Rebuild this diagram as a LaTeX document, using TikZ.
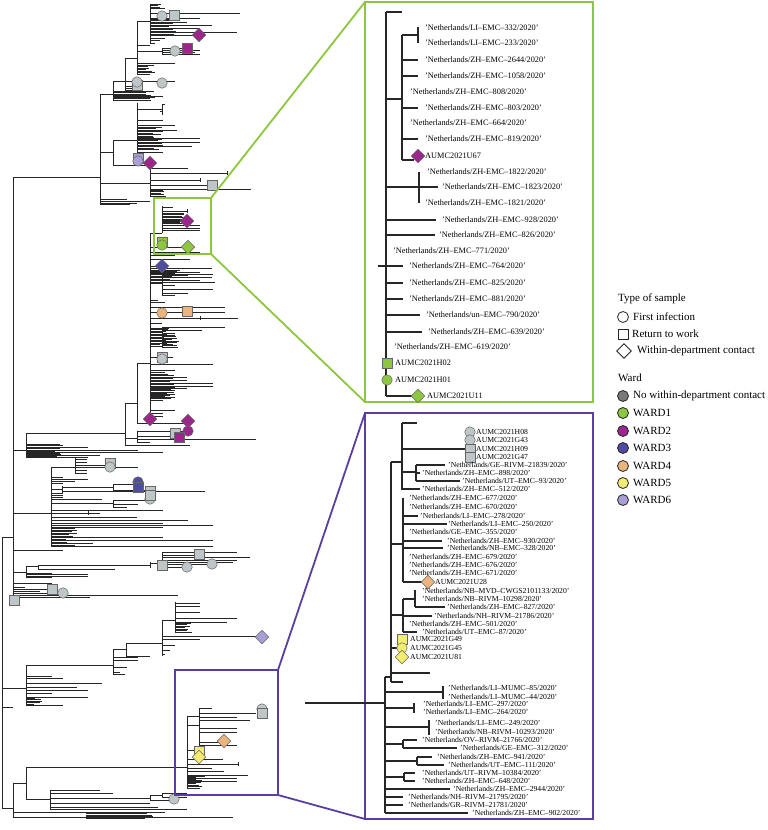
\documentclass[tikz,border=0pt]{standalone}
\usepackage{fontspec}
\setmainfont{Liberation Serif}
\usetikzlibrary{shapes.geometric}
\definecolor{cgrey}{HTML}{BEC6C8}
\definecolor{cwone}{HTML}{8DC63F}
\definecolor{cwtwo}{HTML}{9B268C}
\definecolor{cwthree}{HTML}{4F4DA0}
\definecolor{cwfour}{HTML}{EBB47D}
\definecolor{cwfive}{HTML}{F3EC6E}
\definecolor{cwsix}{HTML}{AA9ED4}
\definecolor{cdark}{HTML}{7A7A7A}
\definecolor{gboxc}{HTML}{8DC63F}
\definecolor{pboxc}{HTML}{5B3FA0}
\tikzset{
 treeline/.style={line width=1pt, draw=black!85},
 insline/.style={line width=1.3pt, draw=black!85},
 mkbase/.style={draw=black!60, line width=0.5pt, inner sep=0pt, outer sep=0pt},
 mc/.style={mkbase, circle, minimum size=10.5pt},
 ms/.style={mkbase, rectangle, minimum size=10pt},
 md/.style={mkbase, diamond, minimum size=13.5pt},
 glab/.style={anchor=west, inner sep=0pt, font=\fontsize{8.3}{9}\selectfont},
 plab/.style={anchor=west, inner sep=0pt, font=\fontsize{7.7}{8}\selectfont},
 leg/.style={anchor=west, inner sep=0pt, font=\fontsize{11}{13}\selectfont},
 legsym/.style={draw=black!85, line width=0.8pt, inner sep=0pt, outer sep=0pt},
 gbx/.style={draw=gboxc, line width=1.8pt, inner sep=0pt, outer sep=0pt},
 pbx/.style={draw=pboxc, line width=1.8pt, inner sep=0pt, outer sep=0pt},
}
\newcounter{mkc}
\newcounter{lbc}
\newcommand\TVl[3]{\draw[treeline] (#1,#2) -- (#1,#3);}
\newcommand\THl[3]{\draw[treeline] (#2,#1) -- (#3,#1);}
\newcommand\TLv[2]{\foreach \yy/\ll in {#2}{\draw[treeline] (#1,\yy) -- (\ll,\yy);}}
\newcommand\TBlk[4]{\pgfmathtruncatemacro\nn{(#3-#2)/1.5}%
 \foreach \k in {0,...,\nn}{\draw[treeline] (#1,{#2+1.5*\k}) -- ({#4+5*rand},{#2+1.5*\k});}}
\newcommand\IVl[3]{\draw[insline] (#1,#2) -- (#1,#3);}
\newcommand\IHl[3]{\draw[insline] (#2,#1) -- (#3,#1);}
\newcommand\TMk[4]{\stepcounter{mkc}\node[#1, fill=#2] (mk\arabic{mkc}) at (#3,#4) {};}
\newcommand\TGl[3]{\stepcounter{lbc}\node[glab] (lb\arabic{lbc}) at (#1,#2) {#3};}
\newcommand\TPl[3]{\stepcounter{lbc}\node[plab] (lb\arabic{lbc}) at (#1,#2) {#3};}
\begin{document}
\begin{tikzpicture}[x=1pt,y=-1pt]
\useasboundingbox (0,0) rectangle (768,830);
\pgfmathsetseed{7}
% ================= main tree =================
\TVl{13}{177}{600}
\THl{177}{13}{100}
\TVl{2}{537}{808}
\THl{537}{2}{13}
% clade A
\TVl{100}{94}{204}
\THl{94}{100}{113}
\TVl{113}{81}{100}
\THl{81}{113}{125}
\TVl{125}{58}{90}
\THl{58}{125}{137}
\TVl{137}{21}{75}
\THl{21}{137}{150}
\TVl{150}{4}{43}
\TBlk{150}{4}{9}{160}
\TLv{150}{13/240, 18/200, 22/187, 25/212, 28/200, 32/237, 35/199, 38/165, 40/160, 43/155}
\TBlk{150}{19}{34}{172}
\THl{51}{137}{162}
\TVl{162}{48}{54}
\TLv{162}{48/187, 50/200, 52/195, 54/200}
\TLv{137}{45/150, 63/175}
\TBlk{137}{65}{75}{150}
\TLv{125}{81/175, 86/137, 88/140, 90/137}
\TBlk{113}{91}{100}{150}
\TLv{113}{96/163}
\THl{152}{100}{113}
\TVl{113}{140}{165}
\THl{140}{113}{137}
\TVl{137}{103}{160}
\THl{109}{137}{162}
\TVl{162}{104}{114}
\TLv{162}{104/165, 107/163, 111/160, 114/163}
\TLv{137}{120/163, 125/175, 130/177, 138/200, 142/200, 146/192, 152/163}
\TBlk{137}{127}{150}{158}
\TLv{113}{165/150}
\THl{183}{100}{150}
\TVl{150}{167}{197}
\TLv{150}{168/188, 173/227, 180/200, 185/212, 189/251}
\TVl{227}{171}{175}
\TVl{200}{178}{182}
\TBlk{150}{190}{197}{165}
\TLv{100}{199/127, 201/150, 203/137, 204/130}
% clade B (green region and below)
\TVl{162}{206}{233}
\THl{233}{150}{162}
\TLv{162}{207/173, 211/187, 221/187, 225/200, 228/200, 230/200}
\TVl{187}{209}{213}
\TBlk{162}{213}{224}{185}
\TVl{150}{233}{416}
\THl{247}{150}{188}
\TLv{150}{252/200, 255/175, 259/190, 266/162, 268/212, 272/200, 274/213, 277/212, 280/200}
\TBlk{150}{270}{282}{175}
\TVl{162}{272}{295}
\THl{283}{150}{162}
\TLv{162}{273/175, 275/188, 277/212, 282/215, 285/175, 289/213, 293/188, 295/175}
\TLv{150}{300/158, 302/165, 307/225, 312/225, 318/238, 323/162}
\TVl{200}{316}{320}
\TVl{162}{327}{347}
\THl{337}{150}{162}
\TLv{162}{327/225, 330/202, 333/175}
\TBlk{162}{335}{347}{175}
\TBlk{150}{328}{346}{165}
\TLv{150}{357/173, 364/213, 370/175, 372/165, 377/187, 380/187, 383/213, 386/213, 388/187, 390/175, 394/175, 397/175, 400/163, 410/175, 413/163, 416/163}
\TBlk{150}{374}{398}{170}
\TVl{137}{363}{423}
\THl{363}{137}{150}
\THl{423}{137}{188}
\TVl{125}{403}{445}
\THl{403}{125}{137}
\THl{433}{26}{125}
\THl{438}{125}{137}
\TVl{137}{431}{442}
\TLv{137}{431/188, 436/179, 439/256, 442/150}
\TLv{125}{445/190}
% clade D
\TVl{26}{433}{457}
\THl{450}{13}{26}
\TLv{26}{447/88, 450/138, 452/163, 455/100, 457/88}
\TBlk{26}{444}{457}{60}
% clade E
\THl{513}{13}{51}
\TVl{51}{467}{547}
\THl{467}{51}{75}
\TVl{75}{458}{474}
\TLv{75}{459/87, 462/87, 465/105, 467/138, 470/87, 473/87}
\TLv{51}{477/63, 479/88, 481/75, 483/63}
\TVl{62}{486}{493}
\THl{489}{51}{62}
\THl{487}{62}{113}
\TVl{113}{484}{490}
\TLv{113}{484/138, 490/150}
\TLv{62}{491/205}
\THl{503}{51}{113}
\TVl{113}{500}{507}
\TLv{113}{500/150, 504/138, 507/127}
\TLv{51}{493/63, 495/63, 497/63, 499/102, 510/163, 513/100, 517/137, 520/188, 523/163, 525/213, 527/163, 530/77, 533/77, 537/163, 540/213, 543/93, 546/213}
\TVl{88}{511}{515}
\TBlk{51}{527}{546}{70}
% clade F (below 537)
\TLv{13}{550/63}
\THl{572}{13}{26}
\TVl{26}{566}{577}
\THl{566}{26}{38}
\TVl{38}{565}{570}
\THl{565}{38}{150}
\THl{569}{38}{115}
\TLv{26}{573/52, 574/88, 576/88, 577/52}
\TVl{150}{562}{568}
\THl{563}{150}{162}
\TVl{162}{552}{567}
\TLv{162}{552/237, 555/199, 557/250, 560/237, 562/233, 564/212, 567/187}
\TLv{13}{583/52, 587/25, 589/52, 591/40, 593/63, 595/178, 597/90}
\THl{688}{2}{26}
\TVl{26}{665}{705}
\THl{665}{26}{113}
\TVl{113}{649}{674}
\THl{649}{113}{126}
\TVl{126}{643}{656}
\THl{643}{126}{162}
\TVl{162}{620}{656}
\THl{620}{162}{175}
\TVl{175}{602}{632}
\TLv{175}{603/200, 606/200, 612/200, 618/237, 622/227, 626/190}
\TBlk{175}{623}{632}{188}
\TLv{162}{636/257, 639/200, 645/175, 650/170, 654/165}
\TLv{126}{656/150}
\TLv{113}{657/138, 660/138, 667/127, 672/120, 674/125}
\TLv{26}{676/52, 678/63, 683/102, 687/77, 690/88, 693/52, 697/88, 705/63}
\TBlk{26}{698}{704}{38}
\TLv{2}{707/13}
% purple region clade
\TVl{13}{783}{817}
\THl{808}{2}{13}
\THl{783}{13}{26}
\TVl{26}{767}{799}
\THl{767}{26}{187}
\THl{799}{26}{50}
\TVl{50}{790}{809}
\TLv{50}{790/100, 793/113, 803/150, 807/158, 809/187}
\THl{798}{50}{150}
\TVl{150}{795}{800}
\TLv{150}{795/162, 800/174}
\TVl{162}{793}{797}
\TLv{162}{793/187, 797/187}
\TLv{13}{812/165, 817/233}
\TBlk{86}{812}{818}{150}
\TVl{187}{716}{788}
\THl{725}{187}{199}
\TVl{199}{708}{745}
\TLv{199}{708/212, 713/256, 717/237, 720/250, 728/237, 732/237, 742/224, 745/237}
\THl{750}{187}{199}
\TLv{187}{716/200, 759/223, 764/238, 768/212, 771/224, 775/248, 778/237, 781/237}
\TVl{238}{762}{766}
\TBlk{187}{776}{788}{200}
% ---------- tree markers ----------
\TMk{mc}{cgrey}{162}{16}
\TMk{ms}{cgrey}{174}{15}
\TMk{md}{cwtwo}{199}{35}
\TMk{mc}{cgrey}{175}{51}
\TMk{ms}{cwtwo}{187}{48}
\TMk{mc}{cgrey}{162}{83}
\TMk{ms}{cgrey}{137}{85}
\TMk{mc}{cgrey}{137}{82}
\TMk{ms}{cwsix}{138}{158}
\TMk{mc}{cwsix}{138}{161}
\TMk{md}{cwtwo}{150}{163}
\TMk{ms}{cgrey}{212}{185}
\TMk{md}{cwtwo}{187}{221}
\TMk{ms}{cwone}{162}{242}
\TMk{mc}{cwone}{162}{245}
\TMk{md}{cwone}{188}{247}
\TMk{md}{cwthree}{162}{266}
\TMk{mc}{cwfour}{162}{313}
\TMk{ms}{cwfour}{187}{311}
\TMk{ms}{cgrey}{162}{357}
\TMk{mc}{cgrey}{162}{359}
\TMk{md}{cwtwo}{150}{419}
\TMk{md}{cwtwo}{188}{421}
\TMk{ms}{cgrey}{175}{433}
\TMk{mc}{cwtwo}{188}{431}
\TMk{ms}{cwtwo}{179}{437}
\TMk{ms}{cgrey}{110}{463}
\TMk{mc}{cgrey}{110}{467}
\TMk{mc}{cwthree}{138}{482}
\TMk{ms}{cwthree}{138}{487}
\TMk{ms}{cgrey}{150}{491}
\TMk{mc}{cgrey}{150}{499}
\TMk{ms}{cgrey}{150}{495}
\TMk{ms}{cgrey}{199}{554}
\TMk{ms}{cgrey}{162}{565}
\TMk{mc}{cgrey}{187}{567}
\TMk{mc}{cgrey}{212}{564}
\TMk{ms}{cgrey}{52}{589}
\TMk{mc}{cgrey}{63}{593}
\TMk{ms}{cgrey}{14}{600}
\TMk{md}{cwsix}{262}{637}
\TMk{mc}{cgrey}{262}{709}
\TMk{ms}{cgrey}{262}{713}
\TMk{md}{cwfour}{224}{741}
\TMk{ms}{cwfive}{199}{751}
\TMk{md}{cwfive}{199}{757}
\TMk{mc}{cgrey}{174}{799}
% ================= zoom boxes =================
\node[gbx, minimum width=57pt, minimum height=56pt] (gs) at (182.5,226) {};
\node[gbx, minimum width=228pt, minimum height=400pt] (gb) at (479,202) {};
\draw[gboxc, line width=1.8pt] (gs.north east) -- (gb.north west);
\draw[gboxc, line width=1.8pt] (gs.south east) -- (gb.south west);
\node[pbx, minimum width=103pt, minimum height=125pt] (ps) at (226.5,732.5) {};
\node[pbx, minimum width=228pt, minimum height=406pt] (pb) at (479,616) {};
\draw[pboxc, line width=1.8pt] (ps.north east) -- (pb.north west);
\draw[pboxc, line width=1.8pt] (ps.south east) -- (pb.south west);
% ================= green inset =================
\IVl{386}{12}{396}
\IHl{12}{386}{402}
\IHl{99}{386}{402}
\IVl{402}{35}{160}
\IHl{35}{402}{418}
\IVl{418}{27}{43}
\IHl{60}{402}{418}
\IHl{76}{402}{418}
\IHl{108}{402}{418}
\IHl{139}{402}{418}
\IHl{160}{402}{414}
\IHl{187}{386}{419}
\IVl{419}{172}{203}
\IHl{187}{419}{438}
\IHl{220}{386}{436}
\IHl{235}{386}{435}
\IHl{266}{378}{403}
\IHl{283}{386}{403}
\IHl{299}{386}{403}
\IHl{315}{386}{420}
\IHl{332}{386}{422}
\IHl{396}{386}{418}
\TMk{md}{cwtwo}{418}{156}
\TMk{ms}{cwone}{387}{363}
\TMk{mc}{cwone}{387}{380}
\TMk{md}{cwone}{418}{396}
\TGl{425}{28}{'Netherlands/LI–EMC–332/2020'}
\TGl{425}{43}{'Netherlands/LI–EMC–233/2020'}
\TGl{425}{60}{'Netherlands/ZH–EMC–2644/2020'}
\TGl{425}{76}{'Netherlands/ZH–EMC–1058/2020'}
\TGl{410}{92}{'Netherlands/ZH–EMC–808/2020'}
\TGl{425}{108}{'Netherlands/ZH–EMC–803/2020'}
\TGl{410}{123}{'Netherlands/ZH–EMC–664/2020'}
\TGl{425}{139}{'Netherlands/ZH–EMC–819/2020'}
\TGl{425}{156}{AUMC2021U67}
\TGl{427}{172}{'Netherlands/ZH-EMC–1822/2020'}
\TGl{442}{187}{'Netherlands/ZH–EMC–1823/2020'}
\TGl{425}{203}{'Netherlands/ZH–EMC–1821/2020'}
\TGl{442}{220}{'Netherlands/ZH–EMC–928/2020'}
\TGl{439}{235}{'Netherlands/ZH–EMC–826/2020'}
\TGl{393}{251}{'Netherlands/ZH–EMC–771/2020'}
\TGl{409}{266}{'Netherlands/ZH–EMC–764/2020'}
\TGl{409}{283}{'Netherlands/ZH–EMC–825/2020'}
\TGl{409}{299}{'Netherlands/ZH–EMC–881/2020'}
\TGl{426}{315}{'Netherlands/un–EMC–790/2020'}
\TGl{428}{332}{'Netherlands/ZH–EMC–639/2020'}
\TGl{394}{347}{'Netherlands/ZH–EMC–619/2020'}
\TGl{395}{363}{AUMC2021H02}
\TGl{395}{380}{AUMC2021H01}
\TGl{427}{396}{AUMC2021U11}
% ================= purple inset =================
\IHl{703}{305}{385}
\IVl{385}{677}{813}
\IHl{677}{385}{391}
\IVl{391}{462}{682}
\IHl{462}{391}{402}
\IVl{402}{423}{490}
\IHl{423}{402}{417}
\IHl{449}{402}{470}
\IVl{470}{432}{457}
\IHl{472}{402}{416}
\IVl{416}{465}{481}
\IHl{465}{416}{445}
\IHl{473}{416}{420}
\IHl{481}{416}{460}
\IHl{489}{402}{420}
\IHl{544}{391}{403}
\IVl{403}{498}{582}
\IHl{516}{403}{418}
\IHl{524}{403}{447}
\IHl{541}{403}{442}
\IHl{548}{403}{443}
\IHl{582}{403}{428}
\IHl{615}{391}{403}
\IVl{403}{599}{632}
\IHl{599}{403}{415}
\IVl{415}{590}{607}
\IHl{607}{415}{445}
\IHl{616}{403}{432}
\IHl{632}{403}{417}
\IHl{648}{391}{402}
\IHl{673}{391}{430}
\IHl{682}{391}{403}
\IHl{692}{385}{443}
\IVl{443}{686}{699}
\IHl{708}{385}{414}
\IVl{414}{703}{713}
\IHl{727}{385}{429}
\IVl{429}{720}{735}
\IHl{744}{385}{403}
\IVl{403}{740}{748}
\IHl{740}{403}{417}
\IHl{748}{403}{457}
\IHl{761}{385}{417}
\IVl{417}{757}{765}
\IHl{757}{417}{432}
\IHl{765}{417}{444}
\IHl{777}{385}{404}
\IVl{404}{773}{781}
\IHl{773}{404}{415}
\IHl{781}{404}{415}
\IHl{789}{385}{450}
\IHl{797}{385}{403}
\IHl{805}{385}{403}
\IHl{813}{385}{468}
\TMk{mc}{cgrey}{470}{432}
\TMk{mc}{cgrey}{470}{440}
\TMk{ms}{cgrey}{470}{449}
\TMk{ms}{cgrey}{470}{457}
\TMk{md}{cwfour}{428}{582}
\TMk{ms}{cwfive}{402}{639}
\TMk{mc}{cwfive}{402}{648}
\TMk{md}{cwfive}{402}{657}
\TPl{476}{432}{AUMC2021H08}
\TPl{476}{440}{AUMC2021G43}
\TPl{476}{449}{AUMC2021H09}
\TPl{476}{457}{AUMC2021G47}
\TPl{448}{465}{'Netherlands/GE–RIVM–21839/2020'}
\TPl{422}{473}{'Netherlands/ZH–EMC–898/2020'}
\TPl{462}{481}{'Netherlands/UT–EMC–93/2020'}
\TPl{422}{489}{'Netherlands/ZH–EMC–512/2020'}
\TPl{409}{498}{'Netherlands/ZH–EMC–677/2020'}
\TPl{409}{507}{'Netherlands/ZH–EMC–670/2020'}
\TPl{420}{516}{'Netherlands/LI–EMC–278/2020'}
\TPl{448}{524}{'Netherlands/LI–EMC–250/2020'}
\TPl{409}{532}{'Netherlands/GE–EMC–355/2020'}
\TPl{447}{541}{'Netherlands/ZH–EMC–930/2020'}
\TPl{447}{548}{'Netherlands/NB–EMC–328/2020'}
\TPl{409}{557}{'Netherlands/ZH–EMC–679/2020'}
\TPl{409}{565}{'Netherlands/ZH–EMC–676/2020'}
\TPl{409}{573}{'Netherlands/ZH–EMC–671/2020'}
\TPl{435}{582}{AUMC2021U28}
\TPl{422}{591}{'Netherlands/NB–MVD–CWGS2101133/2020'}
\TPl{422}{599}{'Netherlands/NB–RIVM–10298/2020'}
\TPl{447}{607}{'Netherlands/ZH–EMC–827/2020'}
\TPl{434}{616}{'Netherlands/NH–RIVM–21786/2020'}
\TPl{409}{624}{'Netherlands/ZH–EMC–501/2020'}
\TPl{422}{632}{'Netherlands/UT–EMC–87/2020'}
\TPl{410}{639}{AUMC2021G49}
\TPl{410}{648}{AUMC2021G45}
\TPl{410}{657}{AUMC2021U81}
\TPl{448}{688}{'Netherlands/LI–MUMC–85/2020'}
\TPl{448}{697}{'Netherlands/LI–MUMC–44/2020'}
\TPl{423}{704}{'Netherlands/LI–EMC–297/2020'}
\TPl{423}{712}{'Netherlands/LI–EMC–264/2020'}
\TPl{435}{723}{'Netherlands/LI–EMC–249/2020'}
\TPl{435}{732}{'Netherlands/NB–RIVM–10293/2020'}
\TPl{422}{740}{'Netherlands/OV–RIVM–21766/2020'}
\TPl{460}{748}{'Netherlands/GE–EMC–312/2020'}
\TPl{437}{757}{'Netherlands/ZH–EMC–941/2020'}
\TPl{448}{765}{'Netherlands/UT–EMC–111/2020'}
\TPl{422}{773}{'Netherlands/UT–RIVM–10384/2020'}
\TPl{422}{781}{'Netherlands/ZH–EMC–648/2020'}
\TPl{453}{789}{'Netherlands/ZH–EMC–2944/2020'}
\TPl{408}{797}{'Netherlands/NH–RIVM–21795/2020'}
\TPl{408}{805}{'Netherlands/GR–RIVM–21781/2020'}
\TPl{472}{813}{'Netherlands/ZH–EMC–902/2020'}
% ================= legend =================
\node[leg] (lt1) at (618,299) {Type of sample};
\node[legsym, circle, minimum size=11pt] (ls1) at (623,317) {};
\node[leg] (lx1) at (633,317) {First infection};
\node[legsym, rectangle, minimum size=10pt] (ls2) at (623,334) {};
\node[leg] (lx2) at (632,334) {Return to work};
\node[legsym, diamond, minimum size=14.5pt] (ls3) at (624,351) {};
\node[leg] (lx3) at (637,351) {Within-department contact};
\node[leg] (lt2) at (618,378) {Ward};
\node[legsym, circle, minimum size=11pt, fill=cdark] (lw0) at (623,396) {};
\node[leg] (ly0) at (633,396) {No within-department contact};
\node[legsym, circle, minimum size=11pt, fill=cwone] (lw1) at (623,413) {};
\node[leg] (ly1) at (633,413) {WARD1};
\node[legsym, circle, minimum size=11pt, fill=cwtwo] (lw2) at (623,431) {};
\node[leg] (ly2) at (633,431) {WARD2};
\node[legsym, circle, minimum size=11pt, fill=cwthree] (lw3) at (623,448) {};
\node[leg] (ly3) at (633,448) {WARD3};
\node[legsym, circle, minimum size=11pt, fill=cwfour] (lw4) at (623,466) {};
\node[leg] (ly4) at (633,466) {WARD4};
\node[legsym, circle, minimum size=11pt, fill=cwfive] (lw5) at (623,483) {};
\node[leg] (ly5) at (633,483) {WARD5};
\node[legsym, circle, minimum size=11pt, fill=cwsix] (lw6) at (623,500) {};
\node[leg] (ly6) at (633,500) {WARD6};
\end{tikzpicture}
\end{document}
